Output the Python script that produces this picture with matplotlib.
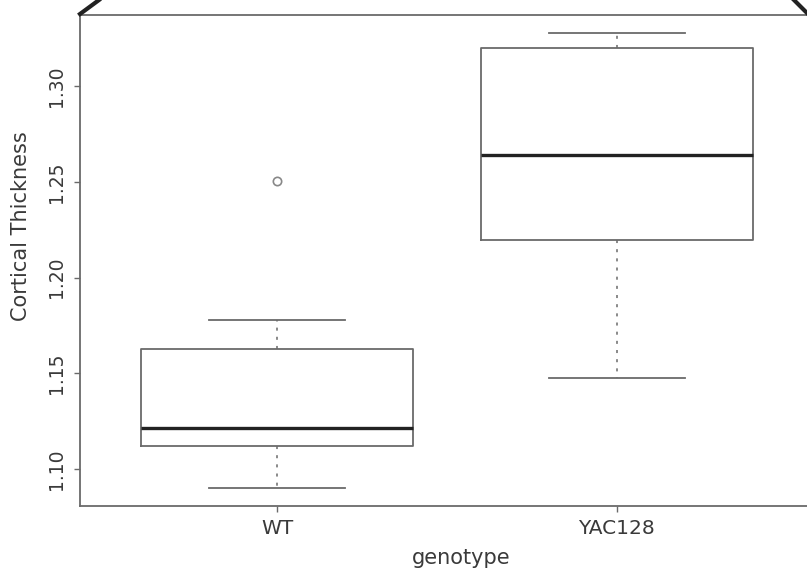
import matplotlib
matplotlib.use('Agg')
import matplotlib.pyplot as plt
from matplotlib.lines import Line2D

# values
genotypes = ['WT', 'YAC128']
medians = [1.1216, 1.2643]
q1 = [1.1122, 1.2196]
q3 = [1.1627, 1.3198]
whisk_lo = [1.0902, 1.1477]
whisk_hi = [1.1778, 1.3277]
outliers = [[1.2506], []]
yticks = [1.10, 1.15, 1.20, 1.25, 1.30]

stats = []
for i, g in enumerate(genotypes):
    stats.append(dict(label=g, med=medians[i], q1=q1[i], q3=q3[i],
                      whislo=whisk_lo[i], whishi=whisk_hi[i], fliers=outliers[i]))

fig = plt.figure(figsize=(8.07, 5.75), dpi=100)
ax = fig.add_axes([80/807, 69/575, 734/807, 491/575])

grey = '#6a6a6a'
txt = '#3a3a3a'
ax.bxp(stats, positions=[1, 2], widths=0.8, showfliers=True,
       boxprops=dict(color=grey, linewidth=1.3),
       medianprops=dict(color='#222222', linewidth=2.4),
       whiskerprops=dict(color=grey, linewidth=1.1, linestyle=(0, (2, 4))),
       capprops=dict(color=grey, linewidth=1.3),
       flierprops=dict(marker='o', markersize=6, markerfacecolor='none',
                       markeredgecolor='#888888', markeredgewidth=1.2))

ax.set_xlim(0.42, 2.58)
ax.set_ylim(1.0807, 1.3372)
ax.set_yticks(yticks)
ax.set_yticklabels(['%.2f' % v for v in yticks], rotation=90, va='center',
                   fontsize=13.5, color=txt)
ax.set_xticks([1, 2])
ax.set_xticklabels(genotypes, fontsize=14.5, color=txt)
ax.tick_params(length=4, width=1, color=grey, pad=6)
ax.tick_params(axis='x', pad=5)
for s in ax.spines.values():
    s.set_color(grey)
    s.set_linewidth(1.3)

ax.set_xlabel('genotype', fontsize=15, color=txt, va='center')
ax.xaxis.set_label_coords(0.520, -0.106)
ax.set_ylabel('Cortical Thickness', fontsize=15, color=txt, va='center')
ax.yaxis.set_label_coords(-0.080, 0.570)

# dark corner strokes at the top edge
fig.add_artist(Line2D([80/807, 99/807], [561/575, 1.0], transform=fig.transFigure,
                      color='#222222', linewidth=3))
fig.add_artist(Line2D([794/807, 807/807], [1.0, 562/575], transform=fig.transFigure,
                      color='#222222', linewidth=3))

fig.savefig('out.png', dpi=100)
